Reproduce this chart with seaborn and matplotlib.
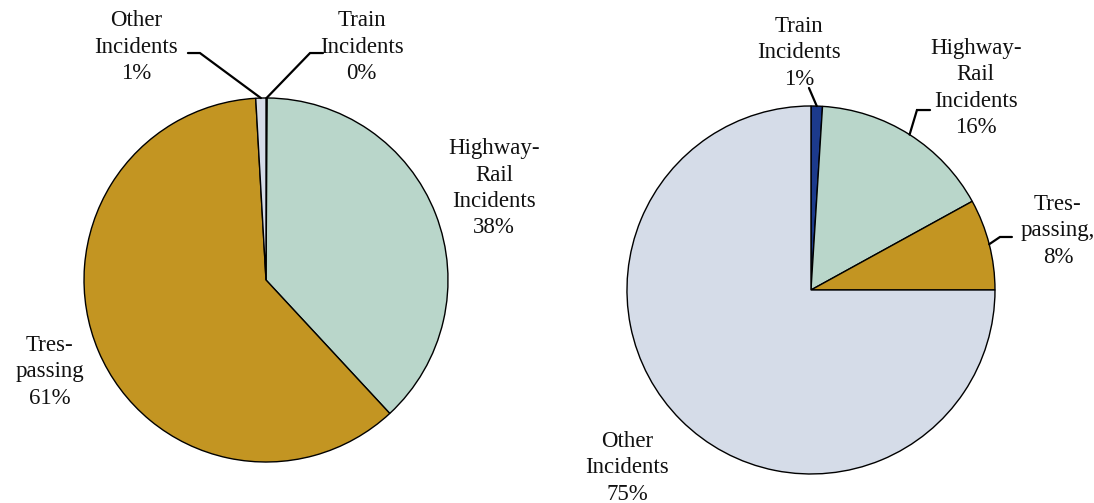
import matplotlib
matplotlib.use("Agg")
import matplotlib.pyplot as plt
import seaborn as sns
import numpy as np

# Share of incidents by type, two periods
categories = ["Train\nIncidents", "Highway-\nRail\nIncidents", "Tres-\npassing", "Other\nIncidents"]
right_categories = ["Train\nIncidents", "Highway-\nRail\nIncidents", "Tres-\npassing,", "Other\nIncidents"]
left_values = [0.1, 38.0, 61.0, 0.9]
right_values = [1.0, 16.0, 8.0, 75.0]
colors = ["#1C3A8C", "#B9D6CA", "#C39522", "#D5DCE8"]

sns.set_theme(style="white")
plt.rcParams["font.family"] = ["Liberation Serif", "DejaVu Serif"]

fig = plt.figure(figsize=(10.94, 5.03), dpi=100)
ax_l = fig.add_axes([0.0768, 0.0815, 0.3327, 0.7237])
ax_r = fig.add_axes([0.5731, 0.0577, 0.3364, 0.7316])

FS = 16.5
LS = 1.32


def draw_pie(ax, values):
    wedges, _ = ax.pie(values, colors=colors, startangle=90, counterclock=False,
                       radius=1.0,
                       wedgeprops=dict(edgecolor="black", linewidth=1.0))
    ax.set_xlim(-1, 1)
    ax.set_ylim(-1, 1)
    ax.set_aspect("auto")
    ax.axis("off")
    return wedges


def edge_point(wedge):
    mid = np.deg2rad((wedge.theta1 + wedge.theta2) / 2.0)
    return np.cos(mid), np.sin(mid)


def label(ax, text, value, xy):
    ax.text(xy[0], xy[1], f"{text}\n{value:.0f}%", ha="center", va="center",
            fontsize=FS, linespacing=LS, clip_on=False, color="#111111")


def leader(ax, wedge, pts):
    x0, y0 = edge_point(wedge)
    xs = [x0] + [p[0] for p in pts]
    ys = [y0] + [p[1] for p in pts]
    ax.plot(xs, ys, color="black", lw=1.6, clip_on=False,
            solid_joinstyle="miter")


# Left pie
wl = draw_pie(ax_l, left_values)
left_pos = [(0.525, 1.280), (1.253, 0.505), (-1.187, -0.505), (-0.712, 1.280)]
for cat, v, pos in zip(categories, left_values, left_pos):
    label(ax_l, cat, v, pos)
leader(ax_l, wl[0], [(0.242, 1.247), (0.313, 1.247)])
leader(ax_l, wl[3], [(-0.363, 1.247), (-0.429, 1.247)])

# Right pie
wr = draw_pie(ax_r, right_values)
right_pos = [(-0.065, 1.288), (0.895, 1.098), (1.342, 0.321), (-1.0, -0.967)]
for cat, v, pos in zip(right_categories, right_values, right_pos):
    label(ax_r, cat, v, pos)
leader(ax_r, wr[0], [(-0.011, 1.098)])
leader(ax_r, wr[1], [(0.576, 0.978), (0.647, 0.978)])
leader(ax_r, wr[2], [(1.027, 0.288), (1.092, 0.288)])

fig.savefig("out.png", dpi=100)
